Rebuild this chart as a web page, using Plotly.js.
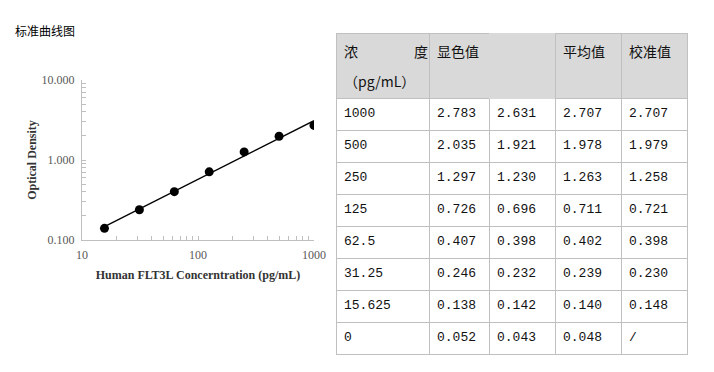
<!DOCTYPE html>
<html>
<head>
<meta charset="utf-8">
<script src="https://cdn.plot.ly/plotly-3.0.1.min.js"></script>
<style>html,body{margin:0;padding:0;background:#fff;}#chart{width:714px;height:372px;}</style>
</head>
<body>
<div id="chart"></div>
<script>
// ---- data ----
const concentrations = [15.625, 31.25, 62.5, 125, 250, 500, 1000];
const meanOD = [0.140, 0.239, 0.402, 0.711, 1.263, 1.978, 2.707];
const fitX = [15.625, 1000];
const fitY = [0.147, 3.10];

const xTickVals = [10, 100, 1000];
const yTickVals = [0.1, 1, 10];
const yTickText = ['0.100', '1.000', '10.000'];

const tableConc = ['1000', '500', '250', '125', '62.5', '31.25', '15.625', '0'];
const tableOD1 = ['2.783', '2.035', '1.297', '0.726', '0.407', '0.246', '0.138', '0.052'];
const tableOD2 = ['2.631', '1.921', '1.230', '0.696', '0.398', '0.232', '0.142', '0.043'];
const tableMean = ['2.707', '1.978', '1.263', '0.711', '0.402', '0.239', '0.140', '0.048'];
const tableCal = ['2.707', '1.979', '1.258', '0.721', '0.398', '0.230', '0.148', '/'];
const headerLine1 = ['浓　　　　度', '显色值', '', '平均值', '校准值'];
const headerLine2 = ['（pg/mL）', '', '', '', ''];

// ---- styles ----
const W = 714, H = 372;
const axisGray = '#bfbfbf';
const tickGray = '#595959';
const serif = 'Liberation Serif, Times New Roman, serif';
const cjk = 'Noto Sans CJK SC, sans-serif';
const border = '#c0c0c0';
const headFill = '#d9d9d9';

const sp = t => '<span style="font-size:14px">' + t + '</span>';
const headerValues = headerLine1.map((t, i) => sp(t) + '<br>' + sp(headerLine2[i] || '\u3000'));

const traces = [
  {
    type: 'scatter', mode: 'lines', x: fitX, y: fitY,
    line: {color: '#000', width: 1.3}, hoverinfo: 'skip', showlegend: false
  },
  {
    type: 'scatter', mode: 'markers', x: concentrations, y: meanOD,
    marker: {color: '#000', size: 9}, showlegend: false
  },
  {
    type: 'table',
    domain: {x: [336 / W, 687 / W], y: [0, 1 - 33 / H]},
    columnwidth: [93, 60, 66, 66, 66],
    header: {
      values: headerValues,
      align: 'left',
      height: 64,
      fill: {color: headFill},
      line: {color: [border, border, headFill, border, border], width: 1},
      font: {family: cjk, size: 23, color: '#111'}
    },
    cells: {
      values: [tableConc, tableOD1, tableOD2, tableMean, tableCal],
      align: 'left',
      height: 32,
      fill: {color: '#fff'},
      line: {color: border, width: 1},
      font: {family: 'Liberation Mono, ' + cjk, size: 13, color: '#111'}
    }
  }
];

const layout = {
  width: W, height: H,
  margin: {l: 0, r: 0, t: 0, b: 0},
  paper_bgcolor: '#fff', plot_bgcolor: '#fff',
  showlegend: false,
  title: {
    text: '标准曲线图', x: 15 / W, xanchor: 'left', y: 1 - 32 / H, yanchor: 'middle',
    font: {family: cjk, size: 12, color: '#000'}
  },
  xaxis: {
    type: 'log', domain: [82 / W, 314 / W], range: [1, 3],
    tickvals: xTickVals, ticks: 'inside', ticklen: 4, tickcolor: axisGray, tickwidth: 1,
    minor: {ticks: 'inside', ticklen: 4, tickcolor: axisGray, dtick: 'D1', showgrid: false},
    showline: true, linecolor: axisGray, linewidth: 1, showgrid: false, zeroline: false,
    tickfont: {family: serif, size: 12, color: tickGray},
    ticklabelstandoff: 4,
    title: {text: '<b>Human FLT3L Concerntration (pg/mL)</b>', font: {family: serif, size: 12, color: '#333'}, standoff: 9},
    fixedrange: true
  },
  yaxis: {
    type: 'log', domain: [1 - 240 / H, 1 - 80 / H], range: [-1, 1],
    tickvals: yTickVals, ticktext: yTickText, ticks: 'inside', ticklen: 4, tickcolor: axisGray, tickwidth: 1,
    minor: {ticks: 'inside', ticklen: 4, tickcolor: axisGray, dtick: 'D1', showgrid: false},
    showline: true, linecolor: axisGray, linewidth: 1, showgrid: false, zeroline: false,
    tickfont: {family: serif, size: 12, color: tickGray},
    ticklabelstandoff: 4,
    title: {text: '<b>Optical Density</b>', font: {family: serif, size: 12, color: '#333'}, standoff: 2},
    fixedrange: true
  }
};

Plotly.newPlot('chart', traces, layout, {displayModeBar: false, staticPlot: true});
</script>
</body>
</html>
